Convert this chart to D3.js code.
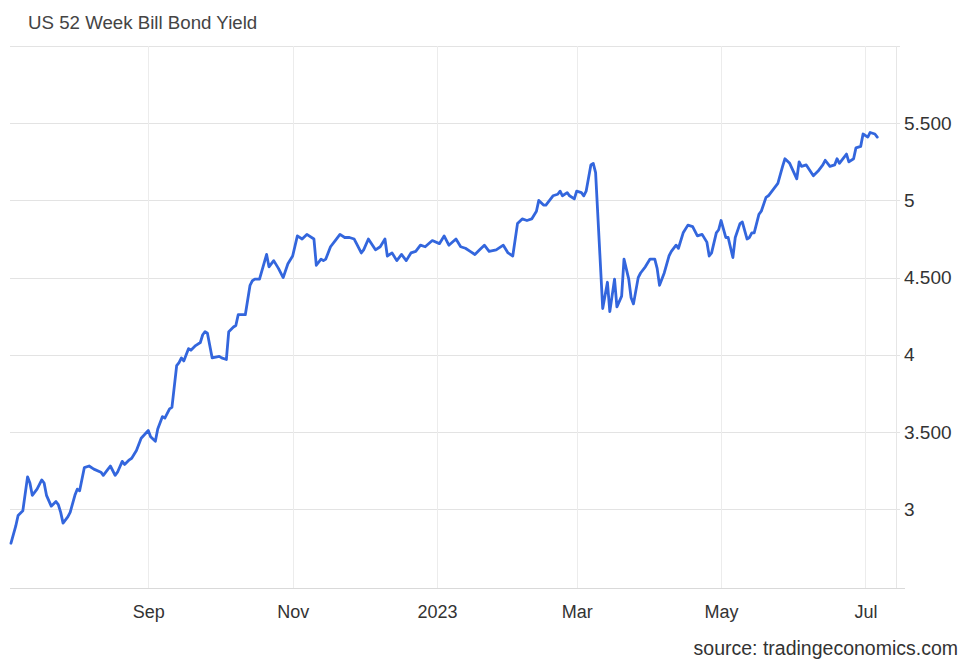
<!DOCTYPE html>
<html>
<head>
<meta charset="utf-8">
<script src="https://cdn.jsdelivr.net/npm/d3@7"></script>
<style>
  body { margin: 0; background: #fff; font-family: "Liberation Sans", Arial, sans-serif; }
</style>
</head>
<body>
<div id="chart"></div>
<script>
// US 52 week bill yield

const dates = [
  '2022-07-05','2022-07-07','2022-07-08','2022-07-10','2022-07-12','2022-07-13','2022-07-14','2022-07-16','2022-07-18','2022-07-19','2022-07-20','2022-07-22','2022-07-24','2022-07-25','2022-07-26','2022-07-27','2022-07-29','2022-07-30',
  '2022-08-01','2022-08-02','2022-08-03','2022-08-05','2022-08-07','2022-08-09','2022-08-12','2022-08-13','2022-08-15','2022-08-16','2022-08-18','2022-08-19','2022-08-21','2022-08-22','2022-08-24','2022-08-25','2022-08-27','2022-08-29',
  '2022-09-01','2022-09-02','2022-09-04','2022-09-05','2022-09-07','2022-09-08','2022-09-10','2022-09-11','2022-09-13','2022-09-14','2022-09-15','2022-09-16','2022-09-18','2022-09-19','2022-09-21','2022-09-23','2022-09-24','2022-09-25','2022-09-26','2022-09-28',
  '2022-10-01','2022-10-02','2022-10-04','2022-10-05','2022-10-07','2022-10-08','2022-10-09','2022-10-12','2022-10-14','2022-10-15','2022-10-16','2022-10-18','2022-10-21','2022-10-22','2022-10-24','2022-10-26','2022-10-28','2022-10-30',
  '2022-11-01','2022-11-03','2022-11-05','2022-11-07','2022-11-10','2022-11-11','2022-11-13','2022-11-14','2022-11-15','2022-11-17','2022-11-19','2022-11-21','2022-11-23','2022-11-25','2022-11-27','2022-11-28','2022-11-30',
  '2022-12-01','2022-12-03','2022-12-06','2022-12-08','2022-12-10','2022-12-11','2022-12-13','2022-12-15','2022-12-17','2022-12-19','2022-12-21','2022-12-23','2022-12-25','2022-12-27','2022-12-30',
  '2023-01-02','2023-01-04','2023-01-06','2023-01-09','2023-01-11','2023-01-13','2023-01-15','2023-01-17','2023-01-19','2023-01-21','2023-01-23','2023-01-26','2023-01-29','2023-01-31',
  '2023-02-02','2023-02-04','2023-02-06','2023-02-08','2023-02-10','2023-02-12','2023-02-13','2023-02-15','2023-02-16','2023-02-19','2023-02-21','2023-02-22','2023-02-23','2023-02-25','2023-02-26','2023-02-28',
  '2023-03-01','2023-03-03','2023-03-04','2023-03-05','2023-03-07','2023-03-08','2023-03-09','2023-03-12','2023-03-14','2023-03-15','2023-03-17','2023-03-18','2023-03-20','2023-03-21','2023-03-23','2023-03-24','2023-03-25','2023-03-27','2023-03-28','2023-03-30',
  '2023-04-01','2023-04-03','2023-04-04','2023-04-05','2023-04-07','2023-04-09','2023-04-10','2023-04-12','2023-04-13','2023-04-15','2023-04-17','2023-04-19','2023-04-21','2023-04-23','2023-04-25','2023-04-26','2023-04-27','2023-04-29','2023-04-30',
  '2023-05-01','2023-05-03','2023-05-04','2023-05-06','2023-05-07','2023-05-09','2023-05-10','2023-05-12','2023-05-13','2023-05-14','2023-05-15','2023-05-17','2023-05-18','2023-05-20','2023-05-21','2023-05-23','2023-05-25','2023-05-27','2023-05-28','2023-05-30',
  '2023-06-02','2023-06-03','2023-06-04','2023-06-06','2023-06-09','2023-06-11','2023-06-13','2023-06-14','2023-06-16','2023-06-18','2023-06-19','2023-06-20','2023-06-23','2023-06-24','2023-06-26','2023-06-27','2023-06-29','2023-06-30',
  '2023-07-02','2023-07-03','2023-07-05','2023-07-06'
];

const yields = [
  2.78, 2.89, 2.96, 2.99, 3.21, 3.17, 3.09, 3.13, 3.19, 3.17, 3.09, 3.02, 3.05, 3.03, 2.98, 2.91, 2.95, 2.98,
  3.09, 3.13, 3.12, 3.27, 3.28, 3.26, 3.24, 3.22, 3.26, 3.28, 3.22, 3.24, 3.31, 3.29, 3.32, 3.33, 3.38, 3.46,
  3.51, 3.47, 3.44, 3.52, 3.60, 3.59, 3.65, 3.66, 3.93, 3.95, 3.98, 3.96, 4.04, 4.03, 4.06, 4.08, 4.13, 4.15, 4.14, 3.98,
  3.99, 3.98, 3.97, 4.15, 4.18, 4.19, 4.26, 4.26, 4.45, 4.48, 4.49, 4.49, 4.65, 4.57, 4.61, 4.56, 4.50, 4.59,
  4.64, 4.77, 4.75, 4.78, 4.75, 4.58, 4.62, 4.61, 4.62, 4.70, 4.74, 4.78, 4.76, 4.76, 4.75, 4.72, 4.66,
  4.68, 4.75, 4.68, 4.70, 4.75, 4.64, 4.66, 4.61, 4.65, 4.61, 4.66, 4.67, 4.71, 4.70, 4.74,
  4.72, 4.77, 4.71, 4.75, 4.70, 4.69, 4.67, 4.65, 4.68, 4.71, 4.67, 4.68, 4.71, 4.66,
  4.64, 4.85, 4.88, 4.87, 4.88, 4.93, 5.00, 4.97, 4.97, 5.03, 5.04, 5.06, 5.03, 5.05, 5.03, 5.01,
  5.06, 5.05, 5.03, 5.06, 5.23, 5.24, 5.18, 4.30, 4.47, 4.28, 4.49, 4.31, 4.38, 4.62, 4.49, 4.37, 4.33, 4.50, 4.53, 4.57,
  4.62, 4.62, 4.56, 4.45, 4.53, 4.64, 4.67, 4.71, 4.69, 4.79, 4.84, 4.83, 4.77, 4.78, 4.73, 4.64, 4.66, 4.79, 4.81,
  4.87, 4.76, 4.76, 4.63, 4.76, 4.85, 4.86, 4.75, 4.76, 4.79, 4.79, 4.91, 4.93, 5.02, 5.03, 5.07, 5.11, 5.22, 5.27, 5.24,
  5.14, 5.25, 5.22, 5.23, 5.16, 5.19, 5.23, 5.26, 5.22, 5.23, 5.27, 5.24, 5.30, 5.25, 5.27, 5.34, 5.35, 5.43,
  5.41, 5.44, 5.43, 5.41
];

const xTickDates = ['2022-09-01', '2022-11-01', '2023-01-01', '2023-03-01', '2023-05-01', '2023-07-01'];
const xTickNames = ['Sep', 'Nov', '2023', 'Mar', 'May', 'Jul'];
const yTickValues = [3, 3.5, 4, 4.5, 5, 5.5];
const yTickNames = ['3', '3.500', '4', '4.500', '5', '5.500'];

const W = 963, H = 659;
const plot = { left: 10, right: 896, top: 46, bottom: 588 };

const parse = d3.timeParse('%Y-%m-%d');
const data = dates.map((d, i) => ({ date: parse(d), value: yields[i] }));

const svg = d3.select('#chart').append('svg')
  .attr('width', W)
  .attr('height', H);

const x = d3.scaleTime()
  .domain([new Date(2022, 6, 4, 14), new Date(2023, 6, 13, 22)])
  .range([plot.left, plot.right]);

const y = d3.scaleLinear()
  .domain([2.49, 6.0])
  .range([plot.bottom, plot.top]);

// Horizontal gridlines + top border
svg.append('g')
  .selectAll('line')
  .data(yTickValues.concat([6.0]))
  .enter()
  .append('line')
  .attr('x1', plot.left)
  .attr('x2', plot.right + 4)
  .attr('y1', d => Math.round(y(d)) + 0.5)
  .attr('y2', d => Math.round(y(d)) + 0.5)
  .attr('stroke', '#e3e3e3')
  .attr('stroke-width', 1);

// Vertical gridlines
svg.append('g')
  .selectAll('line')
  .data(xTickDates.map(parse))
  .enter()
  .append('line')
  .attr('x1', d => Math.round(x(d)) + 0.5)
  .attr('x2', d => Math.round(x(d)) + 0.5)
  .attr('y1', plot.top)
  .attr('y2', plot.bottom)
  .attr('stroke', '#ececec')
  .attr('stroke-width', 1);

// Right border
svg.append('line')
  .attr('x1', plot.right + 0.5)
  .attr('x2', plot.right + 0.5)
  .attr('y1', plot.top)
  .attr('y2', plot.bottom)
  .attr('stroke', '#e6e6e6');

// Bottom axis
const xAxis = svg.append('g')
  .attr('transform', `translate(0,${plot.bottom + 0.5})`)
  .call(d3.axisBottom(x)
    .tickValues(xTickDates.map(parse))
    .tickFormat((d, i) => xTickNames[i])
    .tickSize(0)
    .tickPadding(17));
xAxis.select('.domain')
  .attr('d', `M${plot.left},0H${plot.right + 9}`)
  .attr('stroke', '#d9d9d9');
xAxis.selectAll('text')
  .style('font-family', '"Liberation Sans", Arial, sans-serif')
  .style('font-size', '18px')
  .attr('fill', '#333');

// Right axis
const yAxis = svg.append('g')
  .attr('transform', `translate(${plot.right + 8},0)`)
  .call(d3.axisRight(y)
    .tickValues(yTickValues)
    .tickFormat((d, i) => yTickNames[i])
    .tickSize(0)
    .tickPadding(0));
yAxis.select('.domain').remove();
yAxis.selectAll('text')
  .style('font-family', '"Liberation Sans", Arial, sans-serif')
  .style('font-size', '19px')
  .attr('fill', '#333');

// Line
const line = d3.line()
  .x(d => x(d.date))
  .y(d => y(d.value));

svg.append('path')
  .datum(data)
  .attr('fill', 'none')
  .attr('stroke', '#3366dd')
  .attr('stroke-width', 2.8)
  .attr('stroke-linejoin', 'round')
  .attr('stroke-linecap', 'round')
  .attr('d', line);

// Title and source
svg.append('text')
  .attr('x', 28)
  .attr('y', 29)
  .style('font-size', '18.7px')
  .attr('fill', '#444')
  .text('US 52 Week Bill Bond Yield');

svg.append('text')
  .attr('x', 958)
  .attr('y', 655)
  .attr('text-anchor', 'end')
  .style('font-size', '19.5px')
  .attr('fill', '#333')
  .text('source: tradingeconomics.com');
</script>
</body>
</html>
